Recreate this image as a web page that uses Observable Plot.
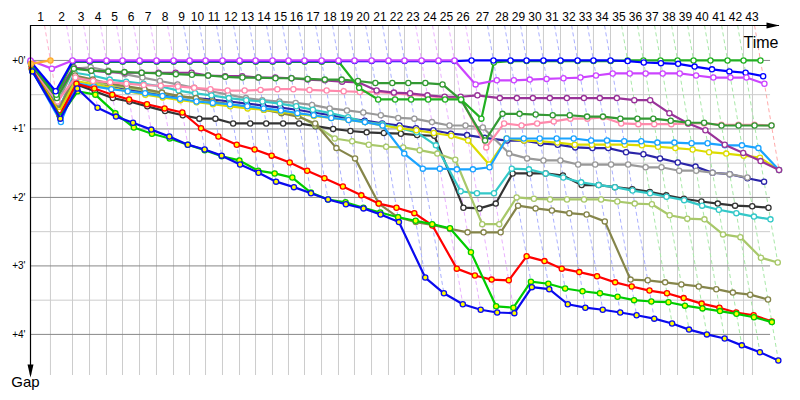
<!DOCTYPE html>
<html><head><meta charset="utf-8">
<script src="https://cdn.jsdelivr.net/npm/d3@7"></script>
<script src="https://cdn.jsdelivr.net/npm/@observablehq/plot@0.6"></script>
<style>body{margin:0;background:#fff}</style>
</head><body><div id="chart"></div>
<script>
// leader's cumulative race time (minutes) at the end of each lap, lap 0..43
const leaderTime = [0, 1.72, 3.62, 5.09, 6.55, 7.93, 9.40, 10.86, 12.33, 13.71, 15.09, 16.55, 18.02, 19.40, 20.86, 22.24, 23.62, 25.09, 26.55, 27.93, 29.40, 30.86, 32.24, 33.71, 35.17, 36.55, 38.02, 39.91, 41.38, 42.76, 44.22, 45.69, 47.16, 48.53, 50.00, 51.47, 52.84, 54.31, 55.78, 57.16, 58.62, 60.09, 61.47, 62.93];
const raceEnd = 62.24;           // time-limit line
const gapTicks = [0, 1, 2, 3, 4];
const gapHalfTicks = [0.5, 1.5, 2.5, 3.5];
const lapLabels = d3.range(1, 44);

// gaps to the leader (minutes), indexed by lap 0..n
const orangeGaps = [0.05, 0.00];
const violetGaps = [0.00, 0.12, 0,0,0,0,0,0,0,0,0,0,0,0,0,0,0,0,0,0,0,0,0,0,0,0, 0.35, 0.29, 0.29, 0.28, 0.27, 0.26, 0.25, 0.22, 0.19, 0.19, 0.19, 0.19, 0.19, 0.22, 0.25, 0.25, 0.25, 0.34];
const blueGaps = [0.02, 0.45, 0.01,0.01,0.01,0.01,0.01,0.01,0.01,0.01,0.01,0.01,0.01,0.01,0.01,0.01,0.01,0.01,0.01,0.01,0.01,0.01,0.01,0.01,0.01,0.01, 0,0,0,0,0,0,0,0,0, 0.01, 0.03, 0.04, 0.05, 0.09, 0.13, 0.16, 0.18, 0.23];
const greenGaps = [0.04, 0.50, 0.02,0.02,0.02,0.02,0.02,0.02,0.02,0.02,0.02,0.02,0.02,0.02,0.02,0.02,0.02,0.02,0.02, 0.40, 0.57, 0.57, 0.57, 0.57, 0.57, 0.57, 0.85, 0.03, 0.01,0.01,0.01,0.01,0.01,0.01,0.01, 0,0,0,0,0,0,0,0,0];
const darkGreenGaps = [0.06, 0.55, 0.12, 0.15, 0.16, 0.17, 0.18, 0.19, 0.20, 0.21, 0.22, 0.24, 0.25, 0.25, 0.26, 0.26, 0.27, 0.28, 0.28, 0.30, 0.33, 0.33, 0.33, 0.33, 0.35, 0.58, 1.17, 0.78, 0.78, 0.79, 0.80, 0.80, 0.82, 0.82, 0.85, 0.85, 0.85, 0.88, 0.91, 0.91, 0.95, 0.95, 0.95, 0.95];
const purpleGaps = [0.05, 0.50, 0.10, 0.15, 0.17, 0.18, 0.18, 0.18, 0.18, 0.18, 0.22, 0.23, 0.23, 0.25, 0.25, 0.26, 0.28, 0.29, 0.31, 0.32, 0.44, 0.47, 0.48, 0.51, 0.53, 0.53, 0.51, 0.55, 0.55, 0.55, 0.55, 0.55, 0.55, 0.55, 0.55, 0.58, 0.58, 0.77, 0.92, 1.02, 1.23, 1.35, 1.47, 1.60];
const pinkGaps = [0.10, 0.60, 0.25, 0.30, 0.32, 0.34, 0.36, 0.37, 0.38, 0.40, 0.42, 0.44, 0.44, 0.43, 0.42, 0.42, 0.43, 0.44, 0.45, 0.46, 0.46, 0.48, 0.50, 0.52, 0.54, 0.55, 1.27, 0.92, 0.95, 0.92, 0.89, 0.85, 0.85, 0.83, 0.92, 0.93, 0.93, 0.93, 0.92, 0.92, 0.94, 0.94, 0.94, 0.95];
const lightBlueGaps = [0.15, 0.90, 0.33, 0.38, 0.42, 0.45, 0.48, 0.52, 0.56, 0.60, 0.62, 0.64, 0.67, 0.70, 0.73, 0.77, 0.80, 0.84, 0.87, 0.90, 0.95, 1.36, 1.58, 1.58, 1.59, 1.59, 1.56, 1.14, 1.14, 1.14, 1.14, 1.14, 1.17, 1.17, 1.18, 1.18, 1.20, 1.20, 1.21, 1.21, 1.24, 1.24, 1.28, 1.60];
const yellowGaps = [0.12, 0.75, 0.30, 0.35, 0.40, 0.45, 0.50, 0.54, 0.58, 0.61, 0.64, 0.67, 0.70, 0.72, 0.75, 0.78, 0.81, 0.84, 0.87, 0.90, 0.95, 0.99, 1.02, 1.06, 1.10, 1.17, 1.52, 1.14, 1.17, 1.18, 1.20, 1.23, 1.23, 1.23, 1.23, 1.24, 1.26, 1.28, 1.30, 1.34, 1.36, 1.39, 1.42, 1.60];
const navyGaps = [0.10, 0.70, 0.25, 0.30, 0.38, 0.42, 0.47, 0.50, 0.53, 0.55, 0.57, 0.60, 0.63, 0.66, 0.69, 0.72, 0.76, 0.80, 0.85, 0.88, 0.92, 0.95, 0.99, 1.02, 1.07, 1.09, 1.13, 1.17, 1.17, 1.21, 1.23, 1.27, 1.28, 1.28, 1.34, 1.37, 1.43, 1.49, 1.55, 1.64, 1.66, 1.72, 1.77];
const grayGaps = [0.08, 0.62, 0.12, 0.10, 0.15, 0.20, 0.25, 0.30, 0.35, 0.40, 0.45, 0.50, 0.55, 0.58, 0.60, 0.62, 0.65, 0.70, 0.73, 0.76, 0.80, 0.84, 0.85, 0.90, 0.95, 0.95, 0.98, 1.36, 1.43, 1.46, 1.46, 1.52, 1.52, 1.52, 1.52, 1.56, 1.56, 1.61, 1.61, 1.64, 1.66, 1.71];
const blackGaps = [0.14, 0.80, 0.35, 0.45, 0.55, 0.60, 0.67, 0.74, 0.80, 0.85, 0.85, 0.92, 0.92, 0.92, 0.92, 0.92, 0.96, 1.00, 1.03, 1.05, 1.06, 1.07, 1.09, 1.10, 2.15, 2.16, 2.09, 1.65, 1.65, 1.65, 1.68, 1.82, 1.82, 1.85, 1.88, 1.92, 1.97, 2.02, 2.06, 2.09, 2.12, 2.13, 2.15];
const cyanGaps = [0.10, 0.72, 0.18, 0.22, 0.28, 0.31, 0.34, 0.38, 0.44, 0.48, 0.51, 0.55, 0.58, 0.60, 0.63, 0.67, 0.72, 0.77, 0.83, 0.90, 0.93, 0.99, 1.05, 1.24, 1.91, 1.94, 1.94, 1.58, 1.59, 1.65, 1.71, 1.78, 1.82, 1.85, 1.90, 1.94, 1.99, 2.04, 2.12, 2.18, 2.23, 2.28, 2.32];
const lightGreenGaps = [0.12, 0.74, 0.25, 0.32, 0.36, 0.40, 0.44, 0.48, 0.52, 0.56, 0.60, 0.64, 0.68, 0.72, 0.76, 0.80, 0.95, 1.14, 1.18, 1.23, 1.26, 1.27, 1.31, 1.36, 1.45, 2.39, 2.39, 2.00, 2.02, 2.03, 2.03, 2.03, 2.03, 2.06, 2.09, 2.10, 2.26, 2.31, 2.32, 2.54, 2.58, 2.88, 2.95];
const oliveGaps = [0.11, 0.72, 0.22, 0.28, 0.34, 0.38, 0.42, 0.47, 0.52, 0.55, 0.60, 0.64, 0.68, 0.72, 0.77, 0.82, 0.92, 1.28, 1.43, 2.09, 2.29, 2.36, 2.40, 2.46, 2.51, 2.51, 2.51, 2.12, 2.16, 2.19, 2.23, 2.25, 2.35, 3.20, 3.21, 3.24, 3.27, 3.30, 3.34, 3.39, 3.42, 3.49];
const redGaps = [0.13, 0.80, 0.34, 0.41, 0.50, 0.57, 0.64, 0.70, 0.76, 0.99, 1.11, 1.23, 1.30, 1.39, 1.49, 1.61, 1.72, 1.84, 1.97, 2.09, 2.15, 2.23, 2.41, 3.04, 3.14, 3.20, 3.21, 2.86, 2.93, 3.04, 3.09, 3.15, 3.24, 3.30, 3.36, 3.40, 3.47, 3.55, 3.61, 3.68, 3.72, 3.81];
const green2Gaps = [0.15, 0.82, 0.45, 0.50, 0.77, 0.98, 1.07, 1.14, 1.23, 1.31, 1.40, 1.46, 1.61, 1.65, 1.71, 1.93, 2.03, 2.07, 2.15, 2.22, 2.29, 2.34, 2.39, 2.45, 2.80, 3.59, 3.61, 3.23, 3.26, 3.33, 3.37, 3.40, 3.45, 3.50, 3.52, 3.53, 3.58, 3.62, 3.66, 3.70, 3.75, 3.82];
const blue2Gaps = [0.16, 0.85, 0.41, 0.69, 0.82, 0.91, 1.01, 1.11, 1.23, 1.30, 1.39, 1.52, 1.64, 1.77, 1.85, 1.94, 2.03, 2.10, 2.16, 2.25, 2.36, 3.17, 3.40, 3.56, 3.64, 3.68, 3.69, 3.31, 3.34, 3.56, 3.61, 3.64, 3.68, 3.72, 3.77, 3.84, 3.93, 4.00, 4.06, 4.16, 4.26, 4.38];

// drawing order back to front
const series = [
  {name: "navy", color: "#2a24a8", fill: "#fff", gaps: navyGaps},
  {name: "gray", color: "#999999", fill: "#fff", gaps: grayGaps},
  {name: "black", color: "#333333", fill: "#fff", gaps: blackGaps},
  {name: "cyan", color: "#33c8c8", fill: "#fff", gaps: cyanGaps},
  {name: "lightgreen", color: "#a8c86a", fill: "#fff", gaps: lightGreenGaps},
  {name: "olive", color: "#85854a", fill: "#fff", gaps: oliveGaps},
  {name: "yellow", color: "#dcdc00", fill: "#fff", gaps: yellowGaps},
  {name: "lightblue", color: "#1aa3ff", fill: "#fff", gaps: lightBlueGaps},
  {name: "pink", color: "#ff8aac", fill: "#fff", gaps: pinkGaps},
  {name: "purple", color: "#993399", fill: "#fff", gaps: purpleGaps},
  {name: "darkgreen", color: "#339933", fill: "#fff", gaps: darkGreenGaps},
  {name: "red", color: "#ff0000", fill: "#ffff00", gaps: redGaps},
  {name: "green2", color: "#00cc00", fill: "#ffff00", gaps: green2Gaps},
  {name: "blue2", color: "#0a0aee", fill: "#ffff00", gaps: blue2Gaps},
  {name: "green", color: "#22b022", fill: "#fff", gaps: greenGaps},
  {name: "blue", color: "#0000ff", fill: "#fff", gaps: blueGaps},
  {name: "violet", color: "#cc44ff", fill: "#fff", gaps: violetGaps},
  {name: "orange", color: "#ffaa33", fill: "#ffcc55", gaps: orangeGaps}
];

const TOP = -0.51;
const BOTTOM = 4.6;

const points = series.flatMap(s => s.gaps.map((g, lap) => ({
  driver: s.name, lap, gap: g, time: leaderTime[lap] + g, color: s.color, fill: s.fill
})));

function lapColor(n) {
  if (n === 1) return "#ffb0cc";
  if (n <= 8) return "#eab0ff";
  if (n <= 22) return "#aab0ff";
  if (n <= 26) return "#eab0ff";
  if (n <= 34) return "#aab0ff";
  if (n <= 42) return "#a8e8a8";
  return "#ffaaaa";
}
const lapLinks = lapLabels.map(n => {
  const gmax = d3.max(points.filter(p => p.lap === n), p => p.gap);
  return {lap: n, t: leaderTime[n], gmax};
});

const gridTimes = leaderTime.slice(1, 43).concat([raceEnd]);

const arrowRight = {draw(ctx) { ctx.moveTo(0, 0); ctx.lineTo(-13, -3); ctx.lineTo(-13, 3); ctx.closePath(); }};
const arrowDown = {draw(ctx) { ctx.moveTo(0, 0); ctx.lineTo(-3, -13); ctx.lineTo(3, -13); ctx.closePath(); }};

const marks = [
  Plot.ruleY(gapHalfTicks, {x1: 0, x2: 63.8, stroke: "#cccccc", strokeWidth: 1}),
  Plot.ruleX(gridTimes, {y1: TOP, y2: BOTTOM, stroke: "#cccccc", strokeWidth: 1}),
  Plot.ruleY(gapTicks, {x1: 0, x2: 63.8, stroke: "#888888", strokeWidth: 1}),
  Plot.link(lapLinks, {
    x1: d => d.t + TOP, y1: () => TOP, x2: d => d.t + d.gmax, y2: d => d.gmax,
    stroke: d => lapColor(d.lap), strokeWidth: 1, strokeDasharray: "4,3"
  })
];
for (const s of series) {
  const pts = points.filter(p => p.driver === s.name);
  marks.push(Plot.line(pts, {x: "time", y: "gap", stroke: s.color, strokeWidth: 2.2, curve: "linear"}));
  marks.push(Plot.dot(pts, {x: "time", y: "gap", r: 2.6, stroke: s.color, fill: s.fill, strokeWidth: 1.3}));
}
marks.push(
  Plot.ruleY([TOP], {stroke: "black", strokeWidth: 1.2}),
  Plot.ruleX([0], {y1: TOP, y2: BOTTOM, stroke: "black", strokeWidth: 1.2}),
  Plot.dot([0], {frameAnchor: "top-right", symbol: arrowRight, fill: "black", stroke: "none"}),
  Plot.dot([0], {frameAnchor: "bottom-left", dy: 2, symbol: arrowDown, fill: "black", stroke: "none"}),
  Plot.text(lapLabels, {x: n => (leaderTime[n - 1] + leaderTime[n]) / 2, y: () => TOP, dy: -8, text: n => String(n), fontSize: 12, fill: "black"}),
  Plot.text(gapTicks, {x: () => 0, y: d => d, dx: -5, text: d => `+${d}'`, textAnchor: "end", fontSize: 10, fill: "black"}),
  Plot.text(["Time"], {frameAnchor: "top-right", dx: -1, dy: 11, textAnchor: "end", fontSize: 16, fill: "black"}),
  Plot.text(["Gap"], {frameAnchor: "bottom-left", dx: -5, dy: 11, textAnchor: "middle", fontSize: 15, fill: "black"})
);

const chart = Plot.plot({
  width: 800, height: 400,
  marginLeft: 30, marginRight: 21, marginTop: 25, marginBottom: 25,
  x: {domain: [0, 64.57], axis: null},
  y: {domain: [TOP, BOTTOM], reverse: true, axis: null},
  color: {type: "identity"},
  style: {fontFamily: "'Liberation Sans', Arial, sans-serif", background: "white", overflow: "visible"},
  marks
});
document.getElementById("chart").appendChild(chart);
</script>
</body></html>
